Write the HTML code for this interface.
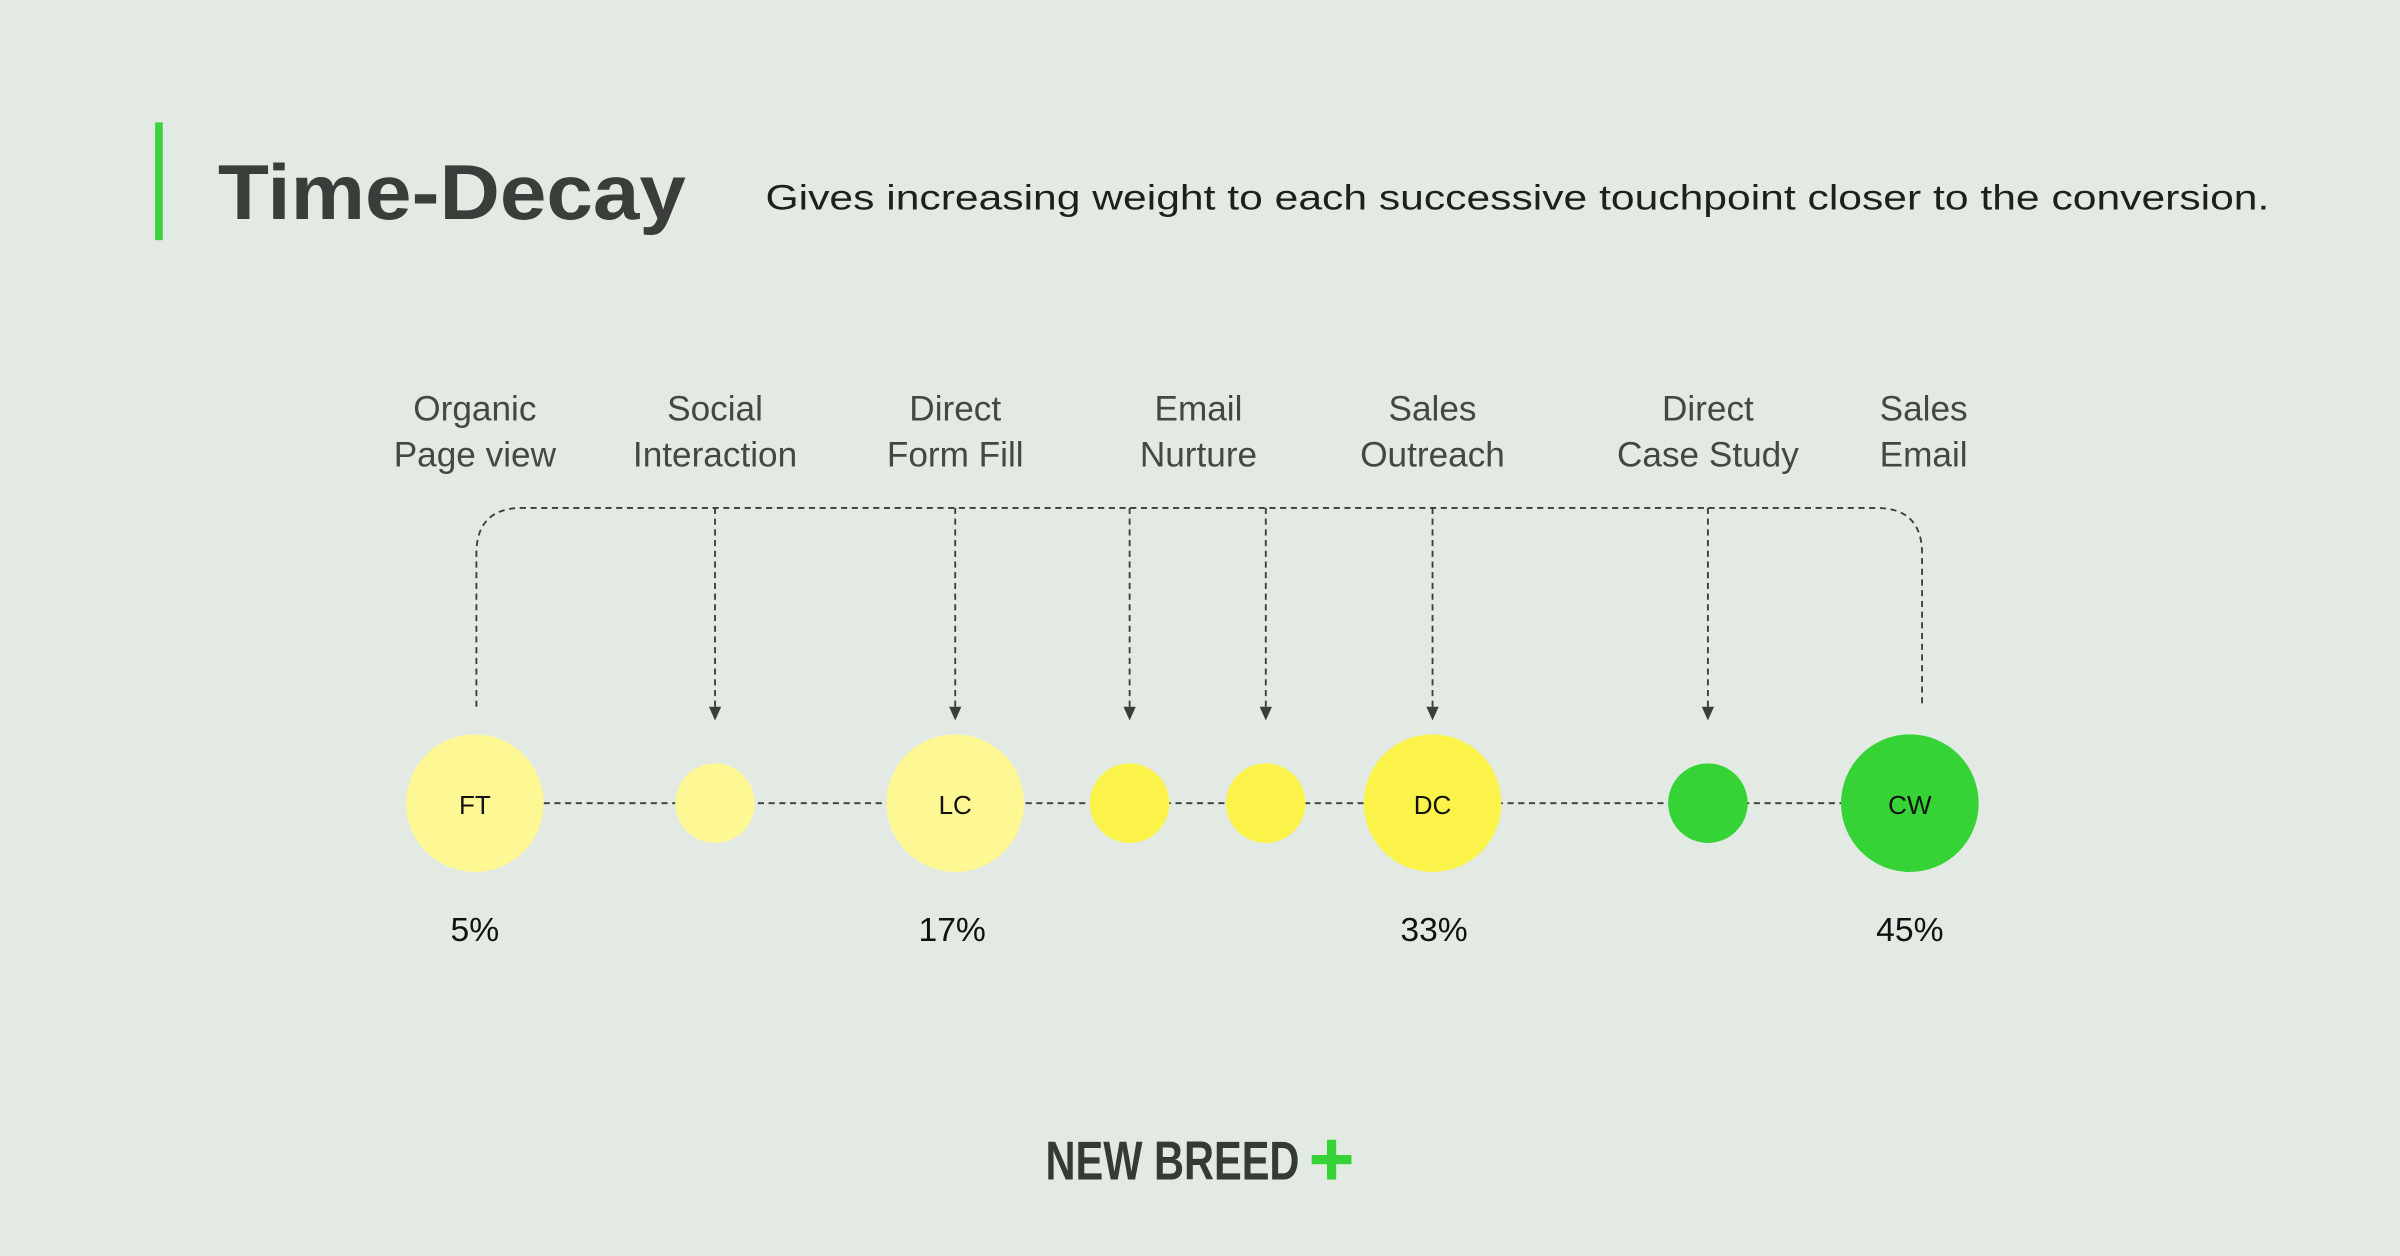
<!DOCTYPE html>
<html><head><meta charset="utf-8"><style>
html,body{margin:0;padding:0;background:#e2eae3;}
svg{display:block}
text{font-family:"Liberation Sans",sans-serif}
</style></head><body>
<svg width="2400" height="1256" viewBox="0 0 1568 821" xmlns="http://www.w3.org/2000/svg">
<rect width="1568" height="821" fill="#e2eae3"/>
<rect x="101" y="80" width="5" height="77" fill="#3dd13d"/>
<text x="142" y="143" font-size="51" font-weight="bold" fill="#3a3d3a" textLength="306" lengthAdjust="spacingAndGlyphs">Time-Decay</text>
<text x="500" y="137" font-size="23" fill="#1e201e" textLength="983" lengthAdjust="spacingAndGlyphs">Gives increasing weight to each successive touchpoint closer to the conversion.</text>
<g font-size="23" fill="#444844" text-anchor="middle">
<text x="310" y="275">Organic</text><text x="310" y="305">Page view</text>
<text x="467" y="275">Social</text><text x="467" y="305">Interaction</text>
<text x="624" y="275">Direct</text><text x="624" y="305">Form Fill</text>
<text x="783" y="275">Email</text><text x="783" y="305">Nurture</text>
<text x="936" y="275">Sales</text><text x="936" y="305">Outreach</text>
<text x="1116" y="275">Direct</text><text x="1116" y="305">Case Study</text>
<text x="1257" y="275">Sales</text><text x="1257" y="305">Email</text>
</g>
<g stroke="#3a3d3a" stroke-width="1.2" stroke-dasharray="4,3" fill="none">
<path d="M311 462 V362 Q311 332 341 332 H1226 Q1256 332 1256 362 V462"/>
<path d="M467 332 V462 M624 332 V462 M738 332 V462 M827 332 V462 M936 332 V462 M1116 332 V462"/>
<path d="M355 525 H1203"/>
</g>
<g fill="#3a3d3a">
<path d="M463 462 h8 l-4 9z"/><path d="M620 462 h8 l-4 9z"/><path d="M734 462 h8 l-4 9z"/>
<path d="M823 462 h8 l-4 9z"/><path d="M932 462 h8 l-4 9z"/><path d="M1112 462 h8 l-4 9z"/>
</g>
<circle cx="310" cy="525" r="45" fill="#fdf794"/>
<circle cx="467" cy="525" r="26" fill="#fdf794"/>
<circle cx="624" cy="525" r="45" fill="#fdf794"/>
<circle cx="738" cy="525" r="26" fill="#fbf34a"/>
<circle cx="827" cy="525" r="26" fill="#fbf34a"/>
<circle cx="936" cy="525" r="45" fill="#fbf34a"/>
<circle cx="1116" cy="525" r="26" fill="#35d335"/>
<circle cx="1248" cy="525" r="45" fill="#35d335"/>
<g font-size="17" fill="#111" text-anchor="middle">
<text x="310" y="532">FT</text><text x="624" y="532">LC</text><text x="936" y="532">DC</text><text x="1248" y="532">CW</text>
</g>
<g font-size="22" fill="#111" text-anchor="middle">
<text x="310" y="615">5%</text><text x="622" y="615">17%</text><text x="937" y="615">33%</text><text x="1248" y="615">45%</text>
</g>
<text x="683" y="771" font-size="36" font-weight="bold" fill="#343a35" textLength="166" lengthAdjust="spacingAndGlyphs">NEW BREED</text>
<rect x="867" y="745" width="6" height="26" fill="#35d335"/>
<rect x="857" y="755" width="26" height="6" fill="#35d335"/>
</svg>
</body></html>
